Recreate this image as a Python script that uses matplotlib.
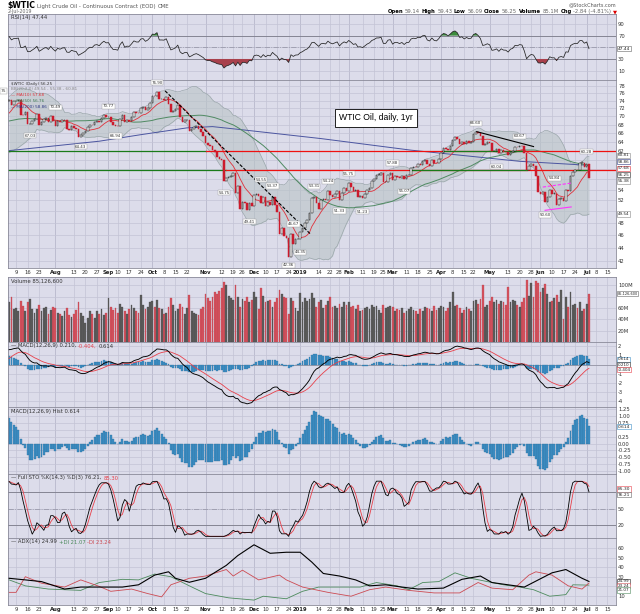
import numpy as np
import pandas as pd
import matplotlib
matplotlib.use('Agg')
import matplotlib.pyplot as plt
from matplotlib.ticker import FixedLocator, NullLocator, FuncFormatter
from matplotlib.offsetbox import TextArea, HPacker, AnchoredOffsetbox

# ---------------- data ----------------
holidays = ['2018-07-04', '2018-09-03', '2018-11-22', '2018-12-25', '2019-01-01',
            '2019-01-21', '2019-02-18', '2019-04-19', '2019-05-27', '2019-07-04']

# closes before the visible window, only used to warm up the indicators (Apr 2 - Jul 2 2018)
warmup_close = [63.01, 63.51, 63.37, 63.54, 62.06, 63.42, 65.51, 66.82, 67.07, 67.39, 66.22,
                66.52, 68.47, 68.29, 68.38, 68.64, 67.70, 68.05, 68.19, 68.10, 68.57,
                67.25, 67.93, 68.43, 69.72, 70.73, 69.06, 71.14, 71.36, 70.70, 70.96, 71.31,
                71.49, 71.49, 71.28, 72.35, 72.20, 71.84, 70.71, 67.88, 66.73, 68.21, 67.04,
                65.81, 64.75, 65.52, 64.73, 65.95, 65.74, 66.10, 66.36, 66.64, 66.89, 65.06,
                65.85, 65.07, 66.22, 65.54, 69.30, 68.08, 70.53, 72.76, 73.45, 74.15, 73.94]

# daily closes Jul 3 2018 .. Jul 2 2019
close = [
    74.14, 72.94, 73.80, 73.85, 74.11, 70.38, 70.33, 71.01, 68.06, 68.08, 68.76, 69.46, 70.46,
    67.89, 68.52, 69.30, 69.61, 68.69, 70.13, 68.76,
    67.66, 68.96, 68.49, 69.01, 69.17, 66.94, 66.81, 67.63, 67.20, 67.04, 65.01, 65.46, 65.91,
    66.43, 67.35, 67.86, 67.83, 68.72, 68.87, 68.53, 69.51, 70.25, 69.80,
    69.87, 68.72, 67.77, 67.75, 67.54, 69.25, 70.37, 68.59, 68.99, 68.91, 69.85, 71.12, 70.80,
    70.78, 72.08, 72.28, 71.57, 72.12, 73.25,
    75.30, 75.23, 76.41, 74.33, 74.34, 74.29, 74.96, 73.17, 70.97, 71.34, 71.78, 72.92, 69.75,
    68.65, 69.12, 69.17, 66.43, 66.82, 67.33, 67.59, 67.04, 66.18, 65.31,
    63.69, 63.14, 63.10, 62.21, 61.67, 60.67, 60.19, 59.93, 55.69, 56.25, 56.46, 56.76, 57.20,
    53.43, 54.63, 50.42, 51.63, 51.56, 50.29, 51.45, 50.93,
    52.95, 53.25, 52.89, 51.49, 52.61, 51.00, 51.65, 51.15, 52.58, 51.20, 49.88, 46.24, 47.20,
    45.88, 45.59, 42.53, 46.22, 44.61, 45.33, 45.41,
    46.54, 47.09, 47.96, 48.52, 49.78, 52.36, 52.59, 51.59, 50.51, 52.11, 52.31, 52.07, 53.80,
    53.01, 52.62, 53.13, 53.69, 51.99, 53.31, 54.23, 53.79,
    55.26, 54.56, 53.66, 54.01, 52.64, 52.72, 52.41, 53.10, 53.90, 54.41, 55.59, 56.09, 56.92,
    56.96, 57.26, 55.48, 55.50, 56.94, 57.22,
    55.80, 56.59, 56.56, 56.22, 56.66, 56.07, 56.79, 56.87, 58.26, 58.61, 58.52, 59.09, 59.03,
    59.83, 59.98, 59.04, 58.82, 59.94, 59.41, 59.30, 60.14,
    61.59, 62.58, 62.46, 62.10, 63.08, 64.40, 64.98, 64.61, 63.58, 63.89, 63.40, 64.05, 63.76,
    64.00, 65.70, 66.30, 65.89, 65.21, 63.30, 63.50, 63.91,
    63.60, 61.81, 61.94, 62.25, 61.40, 62.12, 61.70, 61.66, 61.04, 61.78, 62.02, 62.87, 62.76,
    63.10, 62.99, 61.42, 57.91, 58.63, 59.14, 58.81, 56.59, 53.50,
    53.25, 53.48, 51.68, 52.59, 53.99, 53.26, 53.27, 51.14, 52.28, 52.51, 51.93, 53.90, 53.76,
    56.65, 57.43, 57.90, 57.83, 59.38, 59.43, 58.47,
    59.09, 56.25]

# daily volume, millions
volume = [
    70, 80, 58, 60, 55, 72, 64, 55, 70, 76, 58, 52, 58, 66, 54, 60, 62, 50, 56, 62,
    60, 52, 50, 46, 55, 60, 48, 45, 50, 56, 70, 52, 46, 33, 42, 55, 50, 42, 54, 50, 58, 48, 52,
    78, 62, 56, 60, 52, 68, 62, 55, 50, 58, 66, 60, 55, 52, 83, 66, 58, 62, 70,
    72, 62, 75, 60, 58, 50, 52, 62, 78, 65, 55, 58, 68, 62, 50, 60, 83, 55, 52, 50, 48, 58, 62,
    85, 78, 72, 80, 88, 85, 90, 95, 107, 100, 82, 78, 75, 101, 80, 62, 76, 72, 80, 70, 75,
    88, 80, 58, 95, 82, 70, 72, 75, 62, 70, 78, 92, 85, 80, 78, 50, 78, 72, 60, 55,
    86, 70, 78, 72, 76, 87, 78, 62, 70, 75, 60, 65, 72, 80, 62, 64, 60, 68, 62, 70, 66,
    70, 62, 64, 58, 66, 55, 57, 60, 62, 58, 66, 62, 64, 57, 52, 66, 60, 62, 64,
    62, 54, 58, 56, 60, 52, 55, 58, 62, 57, 55, 50, 58, 54, 62, 60, 58, 55, 64, 57, 60,
    64, 62, 55, 60, 70, 89, 64, 66, 60, 52, 56, 62, 58, 55, 72, 74, 68, 76, 100, 62, 66,
    72, 80, 70, 75, 68, 72, 70, 65, 98, 70, 74, 72, 66, 62, 70, 78, 110, 82, 104, 80, 108, 104,
    88, 95, 102, 85, 70, 72, 78, 84, 70, 92, 40, 80, 62, 88, 66, 68, 60, 70, 55, 58,
    68, 85.1]

# 200-day MA (bar number, value)
ma200_x = [0, 39, 57, 77, 88, 100, 135, 174, 221, 251]
ma200_v = [62.0, 64.1, 65.6, 67.2, 67.5, 66.8, 64.7, 62.1, 59.7, 58.86]

# ADX(14) panel
adx_x = [0, 7, 14, 24, 31, 40, 49, 56, 63, 69, 72, 78, 85, 94, 99, 106, 113, 120, 126, 131,
         136, 143, 150, 156, 163, 170, 177, 188, 196, 204, 209, 216, 223, 235, 241, 248, 251]
adx_v = [28.3, 26.6, 24.8, 16.9, 19.0, 19.0, 19.0, 21.4, 31.7, 35.2, 28.3, 24.1, 28.3, 42.0,
         52.4, 63.8, 54.8, 55.9, 55.9, 45.5, 33.4, 30.7, 26.6, 20.3, 21.4, 19.0, 16.9, 17.9,
         27.2, 30.7, 23.8, 21.4, 19.0, 34.1, 37.6, 28.3, 24.99]
pdi_x = [0, 7, 17, 31, 39, 49, 56, 63, 70, 78, 85, 95, 106, 110, 120, 127, 134, 143, 152, 159,
         168, 173, 179, 186, 193, 200, 207, 214, 221, 227, 234, 241, 244, 251]
pdi_v = [26.6, 20.3, 16.9, 15.5, 23.8, 27.2, 26.6, 32.8, 30.0, 20.3, 12.1, 7.6, 5.2, 9.3, 6.6,
         14.5, 19.0, 19.0, 19.0, 23.8, 20.3, 16.2, 23.8, 24.8, 34.1, 28.3, 24.8, 21.4, 19.0,
         16.2, 9.3, 11.0, 21.4, 21.07]
mdi_x = [0, 3, 7, 14, 24, 31, 39, 44, 53, 60, 66, 70, 78, 85, 94, 97, 101, 108, 117, 120, 127,
         138, 148, 156, 163, 173, 184, 195, 203, 209, 218, 225, 228, 235, 242, 248, 251]
mdi_v = [13.4, 13.4, 30.0, 23.1, 19.0, 26.6, 19.7, 14.5, 16.9, 12.1, 8.6, 21.4, 28.3, 30.7,
         37.6, 30.7, 36.9, 26.6, 31.7, 26.6, 19.0, 13.4, 9.3, 16.2, 19.0, 15.5, 12.8, 12.8,
         23.8, 17.9, 16.2, 31.7, 35.2, 31.7, 20.3, 16.9, 23.24]

# support / resistance drawings (bar number, price)
level_hi, level_lo = 61.9, 57.8
hi_segs = [(-0.5, 85, 'g'), (85, 262.7, 'r'), (188, 222.6, 'g')]
lo_segs = [(-0.5, 94, 'g'), (94, 262.7, 'r'), (173.6, 224, 'g'), (245, 251, 'g')]
trend1_x, trend1_y = [67.5, 130.3], [76.6, 46.2]
trend2_x, trend2_y = [202.4, 227.0], [66.3, 62.9]
flag_up_x, flag_up_y = [231, 243.7], [54.5, 55.3]
flag_lo_x, flag_lo_y = [232, 243.3], [50.2, 50.8]

# high / low labels on the price panel
ann_dates = ['2018-07-17', '2018-08-01', '2018-08-16', '2018-09-04', '2018-09-07', '2018-10-03',
             '2018-11-13', '2018-11-29', '2018-12-06', '2018-12-13', '2018-12-24', '2018-12-27',
             '2019-01-02', '2019-01-10', '2019-01-18', '2019-01-28', '2019-02-01', '2019-02-11',
             '2019-03-01', '2019-03-08', '2019-04-23', '2019-05-06', '2019-05-20', '2019-06-05',
             '2019-06-11', '2019-07-01']
ann_vals = [67.03, 70.49, 64.43, 70.77, 66.94, 76.90, 54.75, 49.41, 54.55, 53.37, 42.36, 46.67,
            44.35, 53.31, 54.24, 51.33, 55.75, 51.23, 57.88, 55.07, 66.60, 60.04, 63.67, 50.60,
            54.84, 60.28]
ann_side = ['b', 'a', 'b', 'a', 'b', 'a', 'b', 'b', 'a', 'a', 'b', 'a', 'b', 'a', 'a', 'b', 'a',
            'b', 'a', 'b', 'a', 'b', 'a', 'b', 'a', 'a']

# ---------------- indicators ----------------
days = pd.bdate_range('2018-07-03', '2019-07-19', freq='C', holidays=holidays)
n = len(close)
x = np.arange(n)
c = np.array(close)
nw = len(warmup_close)
s = pd.Series(warmup_close + close)
prev = s.shift(1).values[nw:]

ma10 = s.rolling(10).mean().values[nw:]
ma20 = s.rolling(20).mean()
sd20 = s.rolling(20).std(ddof=0)
bbu = (ma20 + 2 * sd20).values[nw:]
bbl = (ma20 - 2 * sd20).values[nw:]
ma50 = s.rolling(50).mean().values[nw:]

dif = s.diff()
gain = dif.clip(lower=0).ewm(alpha=1 / 14, adjust=False).mean()
loss = (-dif.clip(upper=0)).ewm(alpha=1 / 14, adjust=False).mean()
rsi = (100 - 100 / (1 + gain / loss)).values[nw:]

macd_s = s.ewm(span=12, adjust=False).mean() - s.ewm(span=26, adjust=False).mean()
sig_s = macd_s.ewm(span=9, adjust=False).mean()
macd = macd_s.values[nw:]
sig = sig_s.values[nw:]
hist = macd - sig

lo14 = s.rolling(14).min()
hi14 = s.rolling(14).max()
stok = (100 * (s - lo14) / (hi14 - lo14)).rolling(3).mean()
stod = stok.rolling(3).mean()
stok = stok.values[nw:]
stod = stod.values[nw:]

down = c < prev

# ---------------- layout ----------------
W, H = 640, 614
BG = '#dcdcea'
GRID = '#c3c3d5'
MGRID = '#a9a9bf'
XMAX = 262.7
TS = 3.8

fig = plt.figure(figsize=(6.4, 6.14), dpi=100)
fig.patch.set_facecolor('white')

# x ticks: month starts plus week starts not too close to a month start
month_idx = [i for i in range(1, len(days)) if days[i].month != days[i - 1].month]
week_idx = [i for i in range(1, len(days))
            if days[i].isocalendar()[1] != days[i - 1].isocalendar()[1]]
tick_pos = sorted(set(month_idx) | {w for w in week_idx
                                    if min(abs(w - m) for m in month_idx) > 3})
tick_lab = []
for i in tick_pos:
    if i in month_idx:
        tick_lab.append(str(days[i].year) if days[i].month == 1 else days[i].strftime('%b'))
    else:
        tick_lab.append(str(days[i].day))


def panel(top, bot, labels=False):
    ax = fig.add_axes([8 / W, 1 - bot / H, 608 / W, (bot - top) / H])
    ax.set_facecolor(BG)
    ax.set_xlim(-0.5, XMAX)
    ax.set_xticks(tick_pos)
    ax.grid(axis='x', color=GRID, lw=0.5, zorder=0)
    ax.grid(axis='y', color=GRID, lw=0.5, zorder=0)
    for m in month_idx:
        ax.axvline(m, color=MGRID, lw=0.6, zorder=0)
    ax.set_axisbelow(True)
    ax.yaxis.tick_right()
    ax.tick_params(axis='y', length=0, labelsize=TS, pad=1.5, labelcolor='#333333')
    ax.tick_params(axis='x', length=0, labelsize=TS, pad=1.2, labelcolor='#333333')
    if labels:
        ax.set_xticklabels(tick_lab)
        for t in ax.get_xticklabels():
            if not t.get_text().isdigit() or len(t.get_text()) == 4:
                t.set_fontweight('bold')
                t.set_color('#222222')
    else:
        ax.set_xticklabels([])
    for sp in ax.spines.values():
        sp.set_color('#8a8a99')
        sp.set_linewidth(0.6)
    return ax


def yfmt(ax, fmt, hide=()):
    ax.yaxis.set_major_formatter(FuncFormatter(
        lambda v, p: '' if any(abs(v - h) < 1e-6 for h in hide) else fmt(v)))


def legend(ax, parts, dy=0.0, size=TS, dx=3):
    boxes = [TextArea(t, textprops=dict(color=col, fontsize=size, fontweight=fw))
             for t, col, fw in parts]
    pack = HPacker(children=boxes, align='baseline', pad=0, sep=1.3)
    ab = AnchoredOffsetbox(loc='upper left', child=pack, frameon=False, pad=0, borderpad=0,
                           bbox_to_anchor=(dx / W + ax.get_position().x0,
                                           ax.get_position().y1 - (1.5 + dy) / H),
                           bbox_transform=fig.transFigure)
    fig.add_artist(ab)


def marks(ax, vals, cols, size=3.2):
    for v, col in zip(vals, cols):
        ax.annotate(v[0], xy=(1.0, v[1]), xycoords=('axes fraction', 'data'),
                    xytext=(1.2, 0), textcoords='offset points', ha='left', va='center',
                    fontsize=size, color='#222222', annotation_clip=False,
                    bbox=dict(boxstyle='square,pad=0.15', fc='white', ec=col, lw=0.4))


# ---- title lines ----
legend_parts = [('$WTIC', 'black', 'bold'),
                ('Light Crude Oil - Continuous Contract (EOD)', '#555555', 'normal'),
                ('CME', '#555555', 'normal')]
boxes = [TextArea(t, textprops=dict(color=col, fontsize=(5.6 if fw == 'bold' else 3.9),
                                    fontweight=fw)) for t, col, fw in legend_parts]
fig.add_artist(AnchoredOffsetbox(loc='upper left', child=HPacker(children=boxes, align='baseline',
                                                                   pad=0, sep=1.6),
                                 frameon=False, pad=0, borderpad=0,
                                 bbox_to_anchor=(7 / W, 1 - 1 / H), bbox_transform=fig.transFigure))
fig.text(8 / W, 1 - 12 / H, '2-Jul-2019', fontsize=3.4, color='#666666', va='center')
fig.text(616 / W, 1 - 4.5 / H, '@StockCharts.com', fontsize=3.6, color='#555555',
         va='center', ha='right')
ohlc = [('Open', 'black', 'bold'), ('59.14', '#666666', 'normal'),
        ('High', 'black', 'bold'), ('59.43', '#666666', 'normal'),
        ('Low', 'black', 'bold'), ('56.09', '#666666', 'normal'),
        ('Close', 'black', 'bold'), ('56.25', '#666666', 'normal'),
        ('Volume', 'black', 'bold'), ('85.1M', '#666666', 'normal'),
        ('Chg', 'black', 'bold'), ('-2.84 (-4.81%)', '#666666', 'normal'),
        ('\u25bc', '#dd0000', 'normal')]
boxes = [TextArea(t, textprops=dict(color=col, fontsize=3.8, fontweight=fw)) for t, col, fw in ohlc]
fig.add_artist(AnchoredOffsetbox(loc='center right', child=HPacker(children=boxes, align='baseline',
                                                                     pad=0, sep=1.2),
                                 frameon=False, pad=0, borderpad=0,
                                 bbox_to_anchor=(617 / W, 1 - 11.5 / H),
                                 bbox_transform=fig.transFigure))

# ---- RSI ----
ax = panel(14, 80)
ax.set_ylim(-6, 107)
ax.set_yticks([10, 30, 50, 70, 90])
yfmt(ax, lambda v: '%d' % v, hide=[50])
ax.plot(x, rsi, color='#222222', lw=0.55, zorder=3)
ax.fill_between(x, rsi, 70, where=rsi >= 70, interpolate=True, color='#3c8c3c', lw=0, zorder=2)
ax.fill_between(x, rsi, 30, where=rsi <= 30, interpolate=True, color='#a8404c', lw=0, zorder=2)
ax.axhline(70, color='#7a7a88', lw=0.6, zorder=1)
ax.axhline(30, color='#7a7a88', lw=0.6, zorder=1)
ax.axhline(50, color='#9a9aaa', lw=0.6, ls='-.', zorder=1)
legend(ax, [('RSI(14) 47.44', '#333333', 'normal')])
marks(ax, [('47.44', 47.44)], ['#666666'])

# ---- price ----
ax = panel(80, 268, labels=True)
ax.set_yscale('log')
ax.set_ylim(40.93, 79.6)
ax.yaxis.set_major_locator(FixedLocator(list(range(42, 80, 2))))
yfmt(ax, lambda v: '%d' % round(v), hide=[50, 56, 58, 60])
ax.yaxis.set_minor_locator(NullLocator())
ax.fill_between(x, bbl, bbu, color='#b9c4c6', alpha=0.6, lw=0, zorder=1)
ax.plot(x, bbu, color='#9aa6aa', lw=0.5, zorder=1.5)
ax.plot(x, bbl, color='#9aa6aa', lw=0.5, zorder=1.5)
ax.plot(ma200_x, ma200_v, color='#4b55a0', lw=0.7, zorder=2)
ax.plot(x, ma50, color='#4f8a62', lw=0.7, zorder=2)
ax.plot(x, ma10, color='#e0303a', lw=0.6, zorder=2.2)
for y0, segs in ((level_hi, hi_segs), (level_lo, lo_segs)):
    for a, b, col in segs:
        ax.plot([a, b], [y0, y0], color=('#1a7a1a' if col == 'g' else '#ee1111'),
                lw=0.9, zorder=2.4)
ax.plot(trend1_x, trend1_y, color='black', lw=0.8, ls=(0, (3, 1.5)), zorder=4)
ax.plot(trend2_x, trend2_y, color='black', lw=0.8, zorder=4)
ax.plot(flag_up_x, flag_up_y, color='#ff33ff', lw=0.8, ls=(0, (3, 1.5)), zorder=4)
ax.plot(flag_lo_x, flag_lo_y, color='#ff33ff', lw=0.8, zorder=4)
body = np.maximum(np.abs(c - prev), 0.08)
ax.bar(x[~down], body[~down], bottom=np.minimum(c, prev)[~down], width=0.7,
       color='white', edgecolor='black', lw=0.35, zorder=3)
ax.bar(x[down], body[down], bottom=np.minimum(c, prev)[down], width=0.7,
       color='#cc1a2c', edgecolor='#cc1a2c', lw=0.35, zorder=3)
date_index = {d.strftime('%Y-%m-%d'): i for i, d in enumerate(days)}
for d, v, sd in zip(ann_dates, ann_vals, ann_side):
    ax.annotate('%.2f' % v, xy=(date_index[d], v), xytext=(0, 3.6 if sd == 'a' else -3.6),
                textcoords='offset points', ha='center', va='bottom' if sd == 'a' else 'top',
                fontsize=2.9, color='#333333', zorder=5,
                bbox=dict(boxstyle='square,pad=0.15', fc='white', ec='#999999', lw=0.3))
ax.text(0.605, 0.798, 'WTIC Oil, daily, 1yr', transform=ax.transAxes, ha='center', va='center',
        fontsize=6.2, family='Liberation Sans', color='black', zorder=6,
        bbox=dict(boxstyle='square,pad=0.5', fc='white', ec='black', lw=0.6))
rows = [[('$WTIC (Daily) 56.25', '#333333', 'normal')],
        [('BB(20,2.0) 49.54 - 55.38 - 60.81', '#888888', 'normal')],
        [('\u2014 MA(10) 57.68', '#e0303a', 'normal')],
        [('\u2014 MA(50) 56.76', '#3f7a52', 'normal')],
        [('\u2014 MA(200) 58.86', '#2a3580', 'normal')]]
for k, r in enumerate(rows):
    legend(ax, r, dy=k * 5.8, size=3.0)
marks(ax, [('60.81', 61.0), ('58.86', 59.6), ('57.68', 58.25), ('56.25', 56.95),
           ('55.38', 55.7), ('49.54', 49.54)],
      ['#888888', '#2a3580', '#e0303a', '#222222', '#888888', '#888888'], size=3.0)
fig.text(1 / W, 1 - 91 / H, '75', fontsize=3.2, color='#444444', va='center',
         bbox=dict(boxstyle='square,pad=0.15', fc='white', ec='#999999', lw=0.3))

# ---- volume ----
ax = panel(277, 342)
ax.set_ylim(0, 115)
ax.set_yticks([20, 40, 60, 80, 100])
yfmt(ax, lambda v: '%dM' % v, hide=[80])
vol = np.array(volume)
ax.bar(x[down], vol[down], width=0.78, color='#d4525e', edgecolor='#b8404c', lw=0.2, zorder=2)
ax.bar(x[~down], vol[~down], width=0.78, color='#5d5d5d', edgecolor='#444444', lw=0.2, zorder=2)
legend(ax, [('Volume 85,126,600', '#333333', 'normal')])
marks(ax, [('85,126,600', 85.1)], ['#666666'], size=2.5)

# ---- MACD ----
ax = panel(342, 407)
ax.set_ylim(-4.6, 2.44)
ax.set_yticks([-4, -3, -2, -1, 0, 1, 2])
yfmt(ax, lambda v: '%d' % v, hide=[0])
ax.axhline(0, color='#8a8a99', lw=0.5, zorder=1)
ax.bar(x, hist, width=0.8, color='#3d8fc6', edgecolor='#2c6d99', lw=0.2, zorder=2)
ax.plot(x, sig, color='#e8404a', lw=0.6, zorder=3)
ax.plot(x, macd, color='black', lw=0.65, zorder=3)
legend(ax, [('\u2014 MACD(12,26,9) 0.210,', '#333333', 'normal'),
            ('-0.404,', '#e8404a', 'normal'), ('0.614', '#333333', 'normal')])
marks(ax, [('0.614', 0.55), ('0.210', 0.0), ('-0.404', -0.57)],
      ['#3d8fc6', '#222222', '#e8404a'], size=3.0)

# ---- MACD histogram ----
ax = panel(407, 474)
ax.set_ylim(-1.11, 1.33)
ax.set_yticks(np.arange(-1.0, 1.26, 0.25))
yfmt(ax, lambda v: '%.2f' % v, hide=[0.5])
ax.bar(x, hist, width=0.85, color='#3d8fc6', edgecolor='#2c6d99', lw=0.25, zorder=2)
legend(ax, [('MACD(12,26,9) Hist 0.614', '#333333', 'normal')])
marks(ax, [('0.614', 0.614)], ['#3d8fc6'])

# ---- Full STO ----
ax = panel(474, 538)
ax.set_ylim(-3, 113)
ax.set_yticks([20, 50, 80])
yfmt(ax, lambda v: '%d' % v, hide=[80])
ax.axhline(80, color='#7a7a88', lw=0.6, zorder=1)
ax.axhline(20, color='#7a7a88', lw=0.6, zorder=1)
ax.axhline(50, color='#9a9aaa', lw=0.6, ls='-.', zorder=1)
ax.plot(x, stod, color='#e8404a', lw=0.6, zorder=2)
ax.plot(x, stok, color='black', lw=0.6, zorder=3)
legend(ax, [('\u2014 Full STO %K(14,3) %D(3) 76.21,', '#333333', 'normal'),
            ('85.30', '#e8404a', 'normal')])
marks(ax, [('85.30', 86.0), ('76.21', 75.5)], ['#e8404a', '#666666'])

# ---- ADX ----
ax = panel(538, 605, labels=True)
ax.set_ylim(0, 71)
ax.set_yticks([10, 20, 30, 40, 50, 60])
yfmt(ax, lambda v: '%d' % v, hide=[20])
ax.plot(pdi_x, pdi_v, color='#4c8a5c', lw=0.6, zorder=2)
ax.plot(mdi_x, mdi_v, color='#cc4a52', lw=0.6, zorder=2)
ax.plot(adx_x, adx_v, color='black', lw=0.8, zorder=3)
legend(ax, [('\u2014 ADX(14) 24.99', '#333333', 'normal'), ('+DI 21.07', '#4c8a5c', 'normal'),
            ('-DI 23.24', '#cc4a52', 'normal')])
marks(ax, [('24.99', 25.3), ('23.24', 20.6), ('21.07', 15.9)],
      ['#222222', '#cc4a52', '#4c8a5c'], size=3.0)

fig.savefig('out.png', dpi=100)
